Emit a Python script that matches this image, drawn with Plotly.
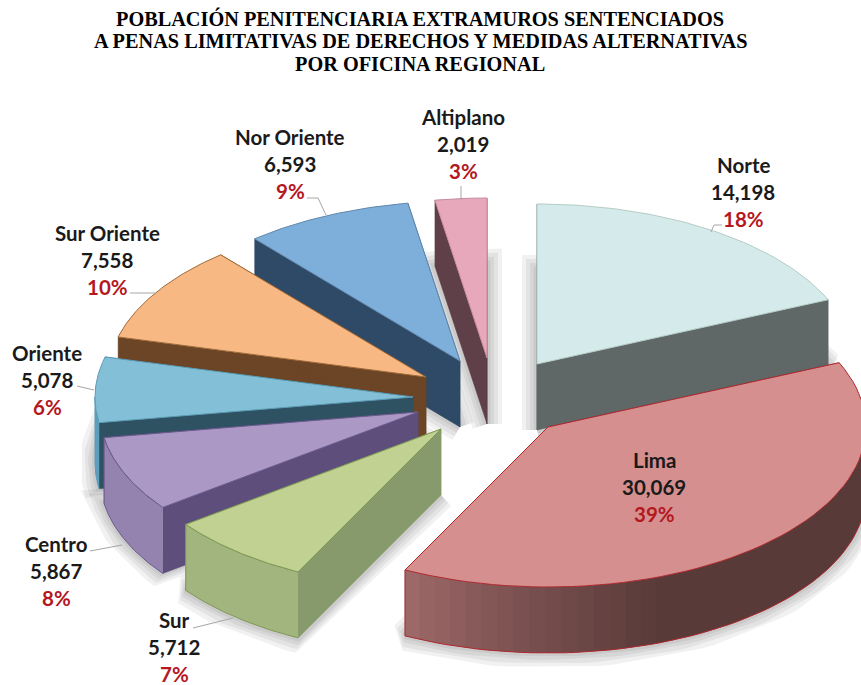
import numpy as np
import plotly.graph_objects as go

# Values, in clockwise order from twelve o'clock
regiones = ['Norte', 'Lima', 'Sur', 'Centro', 'Oriente', 'Sur Oriente', 'Nor Oriente', 'Altiplano']
poblacion = [14198, 30069, 5712, 5867, 5078, 7558, 6593, 2019]
porcentaje = ['18%', '39%', '7%', '8%', '6%', '10%', '9%', '3%']
titulo = [
    'POBLACIÓN PENITENCIARIA EXTRAMUROS SENTENCIADOS',
    'A PENAS LIMITATIVAS DE DERECHOS Y MEDIDAS ALTERNATIVAS',
    'POR OFICINA REGIONAL',
]

# Look of the pie: where each exploded slice has its apex, and its colours
apex_x = [537, 548, 441, 418, 413, 426, 460, 487]
apex_y = [364, 427, 429, 412, 397, 377, 361, 358]
COLOR_TOP = ['#D5EAEA', '#D48F8E', '#C0D191', '#AB98C5', '#83C0D8', '#F7B884', '#7EAEDA', '#E7A8BB']
COLOR_EDGE = ['#B5CCC4', '#B02A30', '#7F9A55', '#6C5A8F', '#5C9CB5', '#A06A38', '#5F87AC', '#C88A9E']
COLOR_FACE = ['#5F6767', '#5A3C3A', '#879A6B', '#5E4E7C', '#2F5263', '#6B4526', '#2E4A66', '#5F3F48']
COLOR_RIM = ['#5F6767', '#583A38', '#A3B57E', '#9483AE', '#5E9EBD', '#6B4526', '#2E4A66', '#5F3F48']
DRAW_ORDER = [7, 6, 5, 4, 3, 2, 0, 1]

RADIUS_X, RADIUS_Y = 318, 160
DEPTH = 66

label_x = [743, 654, 174, 56, 47, 107, 290, 463]
label_y = [165, 460, 620, 544, 353, 233, 137, 117]
LINE_GAP = 27
leaders = [
    'M 722 225 L 714 225 L 711 232',
    'M 193 628 L 233 618',
    'M 90 551 L 122 545',
    'M 77 386 L 94 390',
    'M 130 293 L 155 293',
    'M 307 198 L 318 198 L 326 215',
    'M 461 186 L 461 200',
]


def rim(ox, oy, start, end, n=60):
    t = np.radians(np.linspace(start, end, n))
    return ox + RADIUS_X * np.sin(t), oy - RADIUS_Y * np.cos(t)


def poly(fig, xs, ys, fill, edge, width=1.0):
    fig.add_trace(go.Scatter(x=xs, y=ys, mode='lines', fill='toself', fillcolor=fill,
                             line=dict(color=edge, width=width), hoverinfo='skip', showlegend=False))


def blend(a, b, f):
    ca = [int(a[i:i + 2], 16) for i in (1, 3, 5)]
    cb = [int(b[i:i + 2], 16) for i in (1, 3, 5)]
    return 'rgb(%d,%d,%d)' % tuple(x + (y - x) * f for x, y in zip(ca, cb))


fig = go.Figure()

edges = np.concatenate([[0], np.cumsum(poblacion) / np.sum(poblacion) * 360])

# soft ground shadow, the base of each slice with a few faint wide strokes
for i in DRAW_ORDER:
    ox, oy = apex_x[i], apex_y[i]
    rx, ry = rim(ox, oy, edges[i], edges[i + 1])
    for w in (30, 22, 14, 7):
        poly(fig, [ox] + list(rx) + [ox], [oy + DEPTH] + list(ry + DEPTH) + [oy + DEPTH],
             'rgba(0,0,0,0.03)', 'rgba(0,0,0,0.055)', w)

for i in DRAW_ORDER:
    start, end = edges[i], edges[i + 1]
    ox, oy = apex_x[i], apex_y[i]

    # flat sides running from the apex to the rim
    for ang in (start, end):
        rx, ry = rim(ox, oy, ang, ang, 1)
        poly(fig, [ox, rx[0], rx[0], ox, ox], [oy, ry[0], ry[0] + DEPTH, oy + DEPTH, oy],
             COLOR_FACE[i], COLOR_FACE[i], 0.5)

    # curved side, only the part facing the viewer
    lo, hi = max(start, 90), min(end, 270)
    if hi > lo:
        if regiones[i] == 'Lima':
            steps = np.linspace(lo, hi, 41)
            for k in range(40):
                # each strip runs on under the next one so no seams show
                rx, ry = rim(ox, oy, steps[k], steps[min(k + 2, 40)], 5)
                f = min(1, max(0, (rx[0] - 405) / 265))
                col = blend('#A56E6E', COLOR_RIM[i], f ** 0.8)
                poly(fig, list(rx) + list(rx[::-1]), list(ry) + list(ry[::-1] + DEPTH), col, col, 0)
            rx, ry = rim(ox, oy, lo, hi)
            fig.add_trace(go.Scatter(x=rx, y=ry + DEPTH, mode='lines', hoverinfo='skip', showlegend=False,
                                     line=dict(color=COLOR_EDGE[i], width=1)))
            fig.add_trace(go.Scatter(x=[rx[-1], rx[-1]], y=[ry[-1], ry[-1] + DEPTH], mode='lines',
                                     hoverinfo='skip', showlegend=False, line=dict(color=COLOR_EDGE[i], width=1)))
        else:
            rx, ry = rim(ox, oy, lo, hi)
            poly(fig, list(rx) + list(rx[::-1]), list(ry) + list(ry[::-1] + DEPTH), COLOR_RIM[i], COLOR_EDGE[i])

    # top of the slice
    rx, ry = rim(ox, oy, start, end)
    poly(fig, [ox] + list(rx) + [ox], [oy] + list(ry) + [oy], COLOR_TOP[i], COLOR_EDGE[i])

annotations = []
for i, nombre in enumerate(regiones):
    lines = [(nombre, '#1A1A1A'), (f'{poblacion[i]:,}', '#1A1A1A'), (porcentaje[i], '#B5171F')]
    for k, (text, color) in enumerate(lines):
        annotations.append(dict(x=label_x[i], y=label_y[i] + k * LINE_GAP, text=f'<b>{text}</b>', showarrow=False,
                                xanchor='center', yanchor='middle',
                                font=dict(family='Lato', size=20.5, color=color)))

for text, y in zip(titulo, [18, 41, 64]):
    annotations.append(dict(x=420, y=y, text=f'<b>{text}</b>', showarrow=False, xanchor='center', yanchor='middle',
                            font=dict(family='Liberation Serif', size=20.3, color='#000000')))

fig.update_layout(
    width=861, height=685,
    margin=dict(l=0, r=0, t=0, b=0),
    paper_bgcolor='white', plot_bgcolor='white',
    showlegend=False,
    xaxis=dict(range=[0, 861], visible=False, fixedrange=True),
    yaxis=dict(range=[685, 0], visible=False, fixedrange=True),
    annotations=annotations,
    shapes=[dict(type='path', path=p, line=dict(color='#A6A6A6', width=1)) for p in leaders],
)

fig.write_html("out.html", config=dict(displayModeBar=False), post_script="document.body.style.margin='0';")
